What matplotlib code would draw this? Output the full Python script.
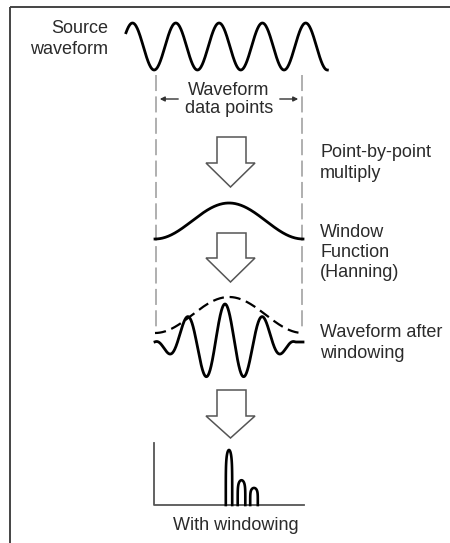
import matplotlib
matplotlib.use('Agg')
import matplotlib.pyplot as plt
from matplotlib.patches import Polygon
import numpy as np

plt.rcParams['font.family'] = ['Liberation Sans', 'DejaVu Sans']

# ---- data ----
# source sine: phase in cycles (starts just before a crest, ends on a trough)
source_phase_range = [-0.15, 4.5]
# windowed waveform: carrier period scale and taper half-width in carrier cycles
windowed_period_cycles = 1.0
taper_halfwidth_cycles = 1.85
# spectrum lobes after windowing (relative magnitude)
spectrum_bins = [0, 1, 2]
spectrum_mags = [1.0, 0.45, 0.31]

label_source = ['Source', 'waveform']
label_points = ['Waveform', 'data points']
label_multiply = ['Point-by-point', 'multiply']
label_window = ['Window', 'Function', '(Hanning)']
label_after = ['Waveform after', 'windowing']
label_spectrum = 'With windowing'

txt = dict(fontsize=13, color='#2b2b2b')

fig = plt.figure(figsize=(4.5, 5.43), dpi=100)
ax = fig.add_axes([0, 0, 1, 1])
ax.set_xlim(0, 450)
ax.set_ylim(543, 0)
ax.axis('off')

# frame (top + left only)
ax.plot([10, 450], [7, 7], color='#444444', lw=1.4, solid_capstyle='butt')
ax.plot([10, 10], [7, 543], color='#444444', lw=1.4, solid_capstyle='butt')

# ---- source waveform ----
ph = np.linspace(source_phase_range[0], source_phase_range[1], 500)
ax.plot(132.5 + 43.3 * ph, 46.5 - 23.5 * np.cos(2 * np.pi * ph), color='black', lw=2.0)
for i, s in enumerate(label_source):
    ax.text(108, 33 + 21 * i, s, ha='right', va='baseline', **txt)

# record boundaries
xl, xr = 156, 302
for xx in (xl, xr):
    ax.plot([xx, xx], [75, 330], color='#9a9a9a', lw=1.1, linestyle=(0, (10.5, 3.5)))

# dimension arrows
ax.annotate('', xy=(xl + 1, 99), xytext=(181, 99),
            arrowprops=dict(arrowstyle='-|>', color='#333333', lw=1.0, mutation_scale=7))
ax.annotate('', xy=(xr - 1, 99), xytext=(277, 99),
            arrowprops=dict(arrowstyle='-|>', color='#333333', lw=1.0, mutation_scale=7))
for i, s in enumerate(label_points):
    ax.text(229, 95 + 18 * i, s, ha='center', va='baseline', **txt)


def big_arrow(top, head, tip):
    pts = [(217, top), (246, top), (246, head), (255, head), (230.5, tip),
           (206, head), (217, head)]
    ax.add_patch(Polygon(pts, closed=True, facecolor='white', edgecolor='#555555', lw=1.1))


big_arrow(137, 163, 187)
for i, s in enumerate(label_multiply):
    ax.text(320, 157 + 21 * i, s, ha='left', va='baseline', **txt)

# ---- Hanning window ----
t = np.linspace(0, 1, 300)
hann = 0.5 * (1 - np.cos(2 * np.pi * t))
ax.plot(155 + 148 * t, 239 - 36 * hann, color='black', lw=2.0)
big_arrow(233, 258, 282)
for i, s in enumerate(label_window):
    ax.text(320, 237 + 20 * i, s, ha='left', va='baseline', **txt)

# ---- windowed waveform ----
period = 38.0 * windowed_period_cycles
half = taper_halfwidth_cycles * period
xs = np.linspace(155, 303, 600)
d = xs - 225
w = np.where(np.abs(d) < half, np.cos(np.pi * d / (2 * half)), 0.0)
ax.plot(155 + 148 * t, 333 - 36 * hann, color='black', lw=1.6, linestyle=(0, (5, 2.6)))
ax.plot(xs, 342 - 38 * w * np.cos(2 * np.pi * d / period), color='black', lw=2.0)
for i, s in enumerate(label_after):
    ax.text(320, 337 + 21 * i, s, ha='left', va='baseline', **txt)

big_arrow(390, 416, 438)

# ---- spectrum ----
base = 505
ax.plot([154, 154, 304], [443, base, base], color='#555555', lw=1.3)
tt = np.linspace(0, np.pi, 80)
for b, m in zip(spectrum_bins, spectrum_mags):
    c = 229 + 12.5 * b
    hw = 3.2 if b == 0 else 3.8
    ax.plot(c - hw * np.cos(tt), base - 55 * m * np.sin(tt) ** 0.35, color='black', lw=1.9)
ax.text(236, 530, label_spectrum, ha='center', va='baseline', **txt)

fig.savefig('out.png', dpi=100)
